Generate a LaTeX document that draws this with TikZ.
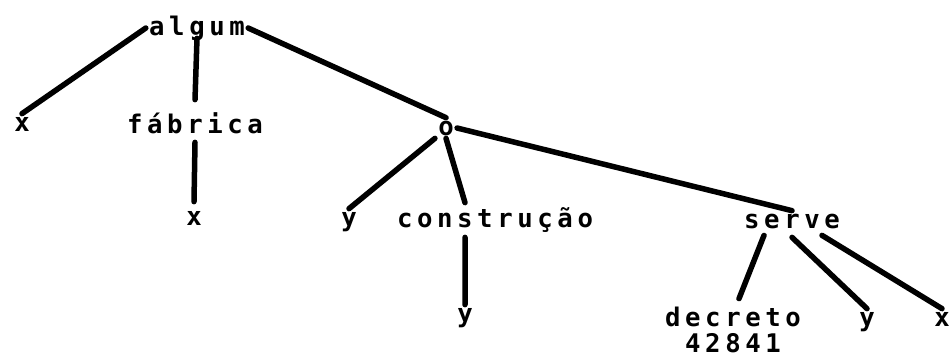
\documentclass[tikz,border=0pt]{standalone}
\usepackage{fontspec}
\newfontfamily\dotfont[LetterSpace=18]{DejaVu Sans Mono Bold}
\usetikzlibrary{positioning}
\tikzset{
  word/.style={font=\dotfont\fontsize{14.6}{16}\selectfont,inner sep=0.06cm,
    text height=0.28cm,text depth=0pt,anchor=base},
  branch/.style={line width=0.11cm,line cap=round,draw=black}
}
\begin{document}
\begin{tikzpicture}[x=0.02cm,y=-0.02cm]
  \useasboundingbox (0,0) rectangle (950,360);
  % words of the tree
  \node[word] (algum) at (197,35) {algum};
  \node[word] (xl) at (22,131) {x};
  \node[word] (fab) at (195,133) {fábrica};
  \node[word] (xf) at (194,225) {x};
  \node[word] (o) at (446,135) {o};
  \node[word] (yl) at (349,226) {y};
  \node[word] (cons) at (495,227) {construção};
  \node[word] (yc) at (465,322) {y};
  \node[word] (serve) at (792,228) {serve};
  \node[word] (dec) at (733,326) {decreto};
  \node[word,below=0.12cm of dec,anchor=north] (num) {42841};
  \node[word] (yr) at (867,326) {y};
  \node[word] (xr) at (942,326) {x};
  % branches
  \draw[branch] (algum.west) -- (xl.north);
  \draw[branch] (algum.south) -- ([yshift=0.32cm]fab.north);
  \draw[branch] (algum.east) -- (o.north);
  \draw[branch] ([yshift=-0.12cm]fab.south) -- ([yshift=0.12cm]xf.north);
  \draw[branch] (o.south west) -- (yl.north);
  \draw[branch] (o.south) -- ([xshift=-0.6cm,yshift=0.14cm]cons.north);
  \draw[branch] (o.east) -- (serve.north);
  \draw[branch] ([xshift=-0.6cm,yshift=-0.14cm]cons.south) -- (yc.north);
  \draw[branch] ([xshift=-0.56cm,yshift=-0.08cm]serve.south) -- ([xshift=0.12cm,yshift=0.2cm]dec.north);
  \draw[branch] ([yshift=-0.12cm]serve.south) -- (yr.north);
  \draw[branch] ([xshift=0.6cm,yshift=-0.08cm]serve.south) -- (xr.north);
\end{tikzpicture}
\end{document}
